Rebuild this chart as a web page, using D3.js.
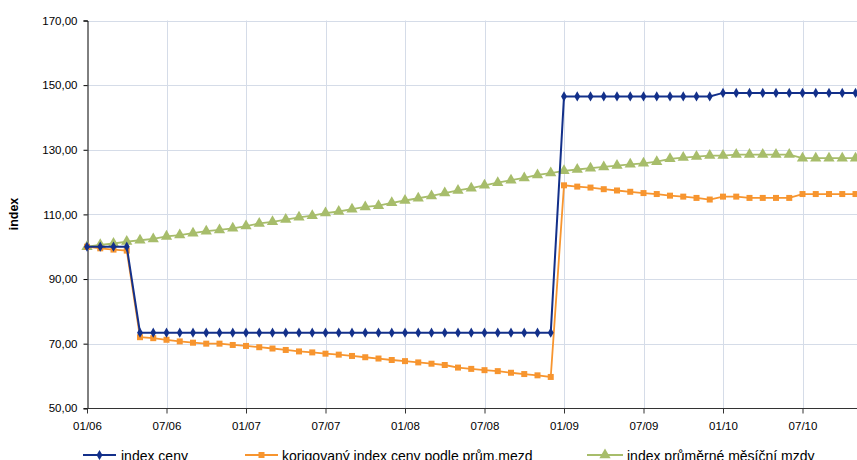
<!DOCTYPE html>
<html>
<head>
<meta charset="utf-8">
<script src="https://cdn.jsdelivr.net/npm/d3@7"></script>
<style>
  html, body { margin: 0; padding: 0; background: #fff; overflow: hidden; }
  text { font-family: "Liberation Sans", Arial, sans-serif; fill: #000; }
</style>
</head>
<body>
<svg id="chart" width="857" height="460"></svg>
<script>
const months = ["01/06","02/06","03/06","04/06","05/06","06/06","07/06","08/06","09/06","10/06","11/06","12/06",
  "01/07","02/07","03/07","04/07","05/07","06/07","07/07","08/07","09/07","10/07","11/07","12/07",
  "01/08","02/08","03/08","04/08","05/08","06/08","07/08","08/08","09/08","10/08","11/08","12/08",
  "01/09","02/09","03/09","04/09","05/09","06/09","07/09","08/09","09/09","10/09","11/09","12/09",
  "01/10","02/10","03/10","04/10","05/10","06/10","07/10","08/10","09/10","10/10","11/10"];

const xTickLabels = ["01/06","07/06","01/07","07/07","01/08","07/08","01/09","07/09","01/10","07/10"];
const yTicks = [50, 70, 90, 110, 130, 150, 170];

const seriesNames = ["index ceny", "korigovaný index ceny podle prům.mezd", "index průměrné měsíční mzdy"];

const indexCeny = [100,100,100,100,
  73.4,73.4,73.4,73.4,73.4,73.4,73.4,73.4,73.4,73.4,73.4,73.4,73.4,73.4,73.4,73.4,
  73.4,73.4,73.4,73.4,73.4,73.4,73.4,73.4,73.4,73.4,73.4,73.4,73.4,73.4,73.4,73.4,
  146.5,146.5,146.5,146.5,146.5,146.5,146.5,146.5,146.5,146.5,146.5,146.5,
  147.6,147.6,147.6,147.6,147.6,147.6,147.6,147.6,147.6,147.6,147.6];

const korigovany = [100,99.5,99.1,98.8,
  72.0,71.7,71.2,70.7,70.3,70.0,70.0,69.6,69.3,68.9,68.5,68.05,67.6,67.3,66.9,66.6,
  66.2,65.8,65.4,64.95,64.6,64.2,63.8,63.4,62.6,62.2,61.8,61.5,61.0,60.6,60.2,59.7,
  119.0,118.6,118.3,117.8,117.4,117.0,116.6,116.3,115.8,115.5,115.1,114.6,
  115.5,115.5,115.1,115.1,115.1,115.1,116.3,116.3,116.3,116.3,116.3];

const mzdy = [100,100.6,101.0,101.6,102.0,102.4,103.2,103.6,104.2,104.8,105.2,105.7,
  106.4,107.2,107.7,108.4,109.1,109.6,110.4,110.9,111.6,112.3,112.7,113.6,
  114.3,115.0,115.7,116.6,117.4,118.1,119.0,119.8,120.6,121.3,122.2,122.8,
  123.5,123.9,124.3,124.7,125.1,125.5,125.8,126.3,127.2,127.6,127.9,128.2,
  128.2,128.5,128.5,128.5,128.5,128.5,127.4,127.4,127.4,127.4,127.4];

(function () {
const svg = d3.select("#chart");
const pLeft = 87, pRight = 857, pTop = 20.5, pBottom = 408.3;

const x = d3.scalePoint().domain(months).range([pLeft, 855.5]);
const y = d3.scaleLinear().domain([50, 170]).range([pBottom, pTop]);

// gridlines
const grid = svg.append("g");
grid.selectAll("line.h").data(yTicks.slice(1)).enter().append("line")
  .attr("x1", pLeft).attr("x2", pRight)
  .attr("y1", d => Math.round(y(d)) + 0.5).attr("y2", d => Math.round(y(d)) + 0.5)
  .attr("stroke", "#d5dce8").attr("stroke-width", 1);
grid.selectAll("line.v").data(xTickLabels.slice(1)).enter().append("line")
  .attr("x1", d => Math.round(x(d)) + 0.5).attr("x2", d => Math.round(x(d)) + 0.5)
  .attr("y1", pTop).attr("y2", pBottom)
  .attr("stroke", "#d5dce8").attr("stroke-width", 1);

// y axis
const yAxis = d3.axisLeft(y).tickValues(yTicks).tickSize(4).tickPadding(6)
  .tickFormat(d => d3.format(".2f")(d).replace(".", ","));
const gy = svg.append("g").attr("transform", `translate(${pLeft + 0.5},0)`).call(yAxis);
gy.select(".domain").attr("stroke", "#000");
gy.selectAll(".tick line").attr("stroke", "#000");
gy.selectAll(".tick text").attr("font-size", "11.5px").attr("font-family", "Liberation Sans, Arial, sans-serif").attr("fill", "#000");

// x axis
const xAxis = d3.axisBottom(x).tickValues(xTickLabels).tickSize(5).tickPadding(8);
const gx = svg.append("g").attr("transform", `translate(0,${Math.round(pBottom) + 0.5})`).call(xAxis);
gx.select(".domain").attr("stroke", "#333").attr("d", `M${pLeft},0H${pRight}`);
gx.selectAll(".tick line").attr("stroke", "#333");
gx.selectAll(".tick text").attr("font-size", "11.5px").attr("font-family", "Liberation Sans, Arial, sans-serif").attr("fill", "#000");

// y title
svg.append("text").attr("transform", `translate(18,214) rotate(-90)`)
  .attr("text-anchor", "middle").attr("font-size", "12.5px").attr("font-weight", "bold").text("index");

const series = [
  {name: seriesNames[0], values: indexCeny, color: "#13308a", sym: d3.symbolDiamond, size: 30, width: 2},
  {name: seriesNames[1], values: korigovany, color: "#f7952f", sym: d3.symbolSquare, size: 36, width: 1.8},
  {name: seriesNames[2], values: mzdy, color: "#a7bd6b", sym: d3.symbolTriangle, size: 55, width: 1.8}
];

const line = d3.line().x((d, i) => x(months[i])).y(d => y(d));

[2, 1, 0].forEach(k => {
  const s = series[k];
  const g = svg.append("g");
  g.append("path").datum(s.values).attr("d", line)
    .attr("fill", "none").attr("stroke", s.color).attr("stroke-width", s.width);
  g.selectAll("path.m").data(s.values).enter().append("path")
    .attr("d", d3.symbol().type(s.sym).size(s.size))
    .attr("transform", (d, i) => `translate(${x(months[i])},${y(d)})`)
    .attr("fill", s.color);
});

// legend
const legendPos = [{x1: 83, x2: 116, tx: 121}, {x1: 245, x2: 278, tx: 282}, {x1: 587, x2: 623, tx: 627}];
const ly = 455;
series.forEach((s, k) => {
  const p = legendPos[k];
  const g = svg.append("g");
  g.append("line").attr("x1", p.x1).attr("x2", p.x2).attr("y1", ly).attr("y2", ly)
    .attr("stroke", s.color).attr("stroke-width", s.width);
  g.append("path").attr("d", d3.symbol().type(s.sym).size(s.size))
    .attr("transform", `translate(${(p.x1 + p.x2) / 2},${ly})`).attr("fill", s.color);
  g.append("text").attr("x", p.tx).attr("y", ly + 5.5).attr("font-size", "14px").text(s.name);
});
})();
</script>
</body>
</html>
